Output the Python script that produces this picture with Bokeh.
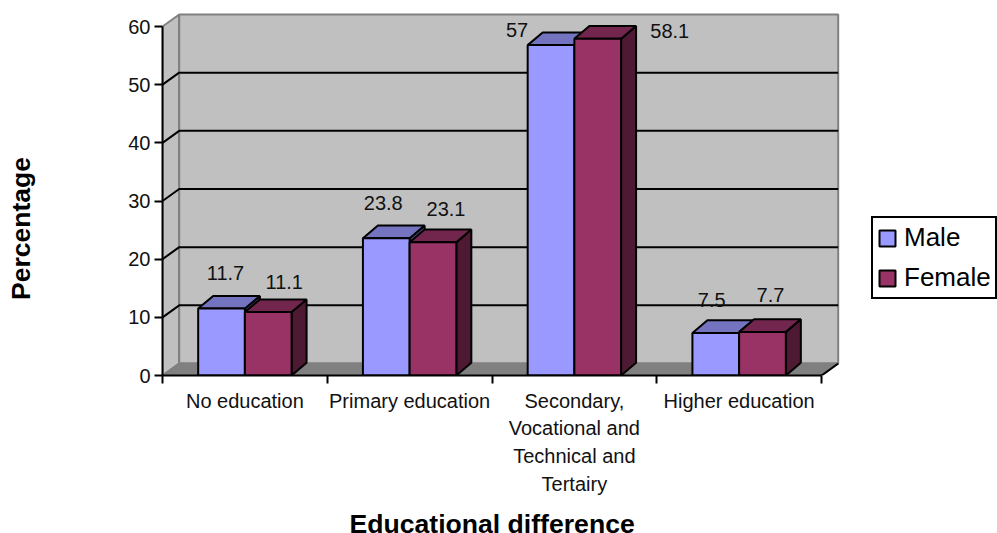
from math import pi
from bokeh.plotting import figure
from bokeh.models import (ColumnDataSource, FixedTicker, Label, Legend, LegendItem, Range1d, Title)
from bokeh.embed import file_html
from bokeh.resources import INLINE

categories = ["No education", "Primary education",
              "Secondary,\nVocational and\nTechnical and\nTertairy", "Higher education"]
male = [11.7, 23.8, 57, 7.5]
female = [11.1, 23.1, 58.1, 7.7]
y_ticks = [0, 10, 20, 30, 40, 50, 60]
series_names = ["Male", "Female"]
x_title = "Educational difference"
y_title = "Percentage"

FONT = "Liberation Sans"
# frame placement in window pixels
L, R, T, B = 162, 840, 12, 375
PX_X = 164.75   # px per category
PX_Y = 349 / 60 # px per percent
X_END = (R - L) / PX_X
Y_END = (B - T) / PX_Y
# 3-D projection, in data units
WALL_DX, WALL_DY = 16.7 / PX_X, 12 / PX_Y
BAR_DX, BAR_DY = 15 / PX_X, 12.7 / PX_Y
GAP, BAR_W = 0.2165, 0.2835
TOP_INSET = 0.2

p = figure(width=997, height=533, output_backend="svg", toolbar_location=None,
           x_range=Range1d(0, X_END), y_range=Range1d(0, Y_END),
           frame_width=R - L, frame_height=B - T,
           min_border_left=L, min_border_right=997 - R, min_border_top=T, min_border_bottom=533 - B,
           outline_line_color=None, background_fill_color=None)
p.grid.visible = False

ymax = y_ticks[-1]
n = len(categories)
GRAY_WALL, GRAY_FLOOR, GRAY_EDGE = "#C0C0C0", "#808080", "#808080"

# walls and floor
p.patch([0, WALL_DX, WALL_DX, 0], [0, WALL_DY, ymax + WALL_DY, ymax],
        fill_color=GRAY_WALL, line_color=GRAY_EDGE, line_width=2)
p.patch([WALL_DX, n + WALL_DX, n + WALL_DX, WALL_DX], [WALL_DY, WALL_DY, ymax + WALL_DY, ymax + WALL_DY],
        fill_color=GRAY_WALL, line_color=GRAY_EDGE, line_width=2)
p.patch([0, n, n + WALL_DX, WALL_DX], [0, 0, WALL_DY, WALL_DY],
        fill_color=GRAY_FLOOR, line_color=GRAY_EDGE, line_width=2)
p.line([n, n + WALL_DX], [0, WALL_DY], line_color="black", line_width=2)

# gridlines on the walls
for t in y_ticks[1:-1]:
    p.line([0, WALL_DX, n + WALL_DX], [t, t + WALL_DY, t + WALL_DY], line_color="black", line_width=2)


def bar(left, value, front, top, side):
    right = left + BAR_W
    h = value - TOP_INSET
    p.patch([right, right + BAR_DX, right + BAR_DX, right], [0, BAR_DY, h + BAR_DY, h],
            fill_color=side, line_color="black", line_width=2)
    p.patch([left, left + BAR_DX, right + BAR_DX, right], [h, h + BAR_DY, h + BAR_DY, h],
            fill_color=top, line_color="black", line_width=2)
    return left, right, h


m_src = dict(left=[], right=[], top=[], bottom=[])
f_src = dict(left=[], right=[], top=[], bottom=[])
male_r = None
for i in range(n):
    l, r, h = bar(i + GAP, male[i], "#9999FF", "#7373BF", "#4C4C80")
    m_src["left"].append(l); m_src["right"].append(r); m_src["top"].append(h); m_src["bottom"].append(0)
    g = p.quad(left=[l], right=[r], top=[h], bottom=[0], fill_color="#9999FF", line_color="black", line_width=2)
    if male_r is None:
        male_r = g
    l, r, h = bar(i + GAP + BAR_W, female[i], "#993366", "#73264D", "#4D1933")
    f_src["left"].append(l); f_src["right"].append(r); f_src["top"].append(h); f_src["bottom"].append(0)

female_r = p.quad(left="left", right="right", top="top", bottom="bottom",
                  source=ColumnDataSource(f_src), fill_color="#993366", line_color="black", line_width=2)

# value labels: per-label pixel offsets (manually placed in the original)
lbl_x = [m_src["left"][i] + BAR_W / 2 for i in range(n)] + [f_src["left"][i] + BAR_W / 2 for i in range(n)]
lbl_y = male + female
lbl_t = [f"{v:g}" for v in male + female]
lbl_dx = [4, -3, -34, -4, 16, 13, 72, 8]
lbl_dy = [-34, -34, -14, -32, -29, -32, -7, -36]
p.text(x="x", y="y", text="t", x_offset="dx", y_offset="dy",
       source=ColumnDataSource(dict(x=lbl_x, y=lbl_y, t=lbl_t, dx=lbl_dx, dy=lbl_dy)),
       text_font={"value": FONT}, text_font_size={"value": "20px"}, text_color="#111111",
       text_align="center", text_baseline="middle")

# axes
xa, ya = p.xaxis[0], p.yaxis[0]
ya.ticker = FixedTicker(ticks=y_ticks)
ya.bounds = (0, ymax)
ya.axis_line_color = "black"; ya.axis_line_width = 2
ya.major_tick_line_color = "black"; ya.major_tick_line_width = 2
ya.major_tick_in = 0; ya.major_tick_out = 8
ya.minor_tick_line_color = None
ya.major_label_standoff = 4
ya.major_label_text_font = FONT; ya.major_label_text_font_size = "20px"; ya.major_label_text_color = "#111111"

xa.ticker = FixedTicker(ticks=[i + 0.5 for i in range(n)], minor_ticks=list(range(n + 1)))
xa.bounds = (0, n)
xa.major_label_overrides = {i + 0.5: c for i, c in enumerate(categories)}
xa.axis_line_color = "black"; xa.axis_line_width = 2
xa.major_tick_line_color = None
xa.major_tick_in = 0; xa.major_tick_out = 8
xa.minor_tick_line_color = "black"; xa.minor_tick_line_width = 2
xa.minor_tick_in = 0; xa.minor_tick_out = 8
xa.major_label_standoff = 6
xa.major_label_orientation = "horizontal"
xa.major_label_text_font = FONT; xa.major_label_text_font_size = "20px"; xa.major_label_text_color = "#111111"
xa.major_label_text_line_height = 1.27

# axis titles
p.add_layout(Title(text=x_title, align="left", offset=349 - L, standoff=16, text_font=FONT,
                   text_font_size="26.6px", text_font_style="bold", text_color="black"), "below")
p.add_layout(Label(x=(20 - L) / PX_X, y=(B - 228) / PX_Y, text=y_title, angle=pi / 2, text_font=FONT,
                   text_font_size="26.5px", text_font_style="bold", text_color="black",
                   text_align="center", text_baseline="middle"), "left")

legend = Legend(items=[LegendItem(label=series_names[0], renderers=[male_r]),
                       LegendItem(label=series_names[1], renderers=[female_r])],
                location=(871 - R, B - 299), orientation="vertical",
                glyph_width=20, glyph_height=20, label_standoff=7, padding=4, margin=0, spacing=9,
                label_text_font=FONT, label_text_font_size="26px", label_text_color="black",
                border_line_color="black", border_line_width=2, border_line_alpha=1,
                background_fill_color="white", background_fill_alpha=1)
p.add_layout(legend, "right")

open("out.html", "w").write(file_html(p, INLINE))
